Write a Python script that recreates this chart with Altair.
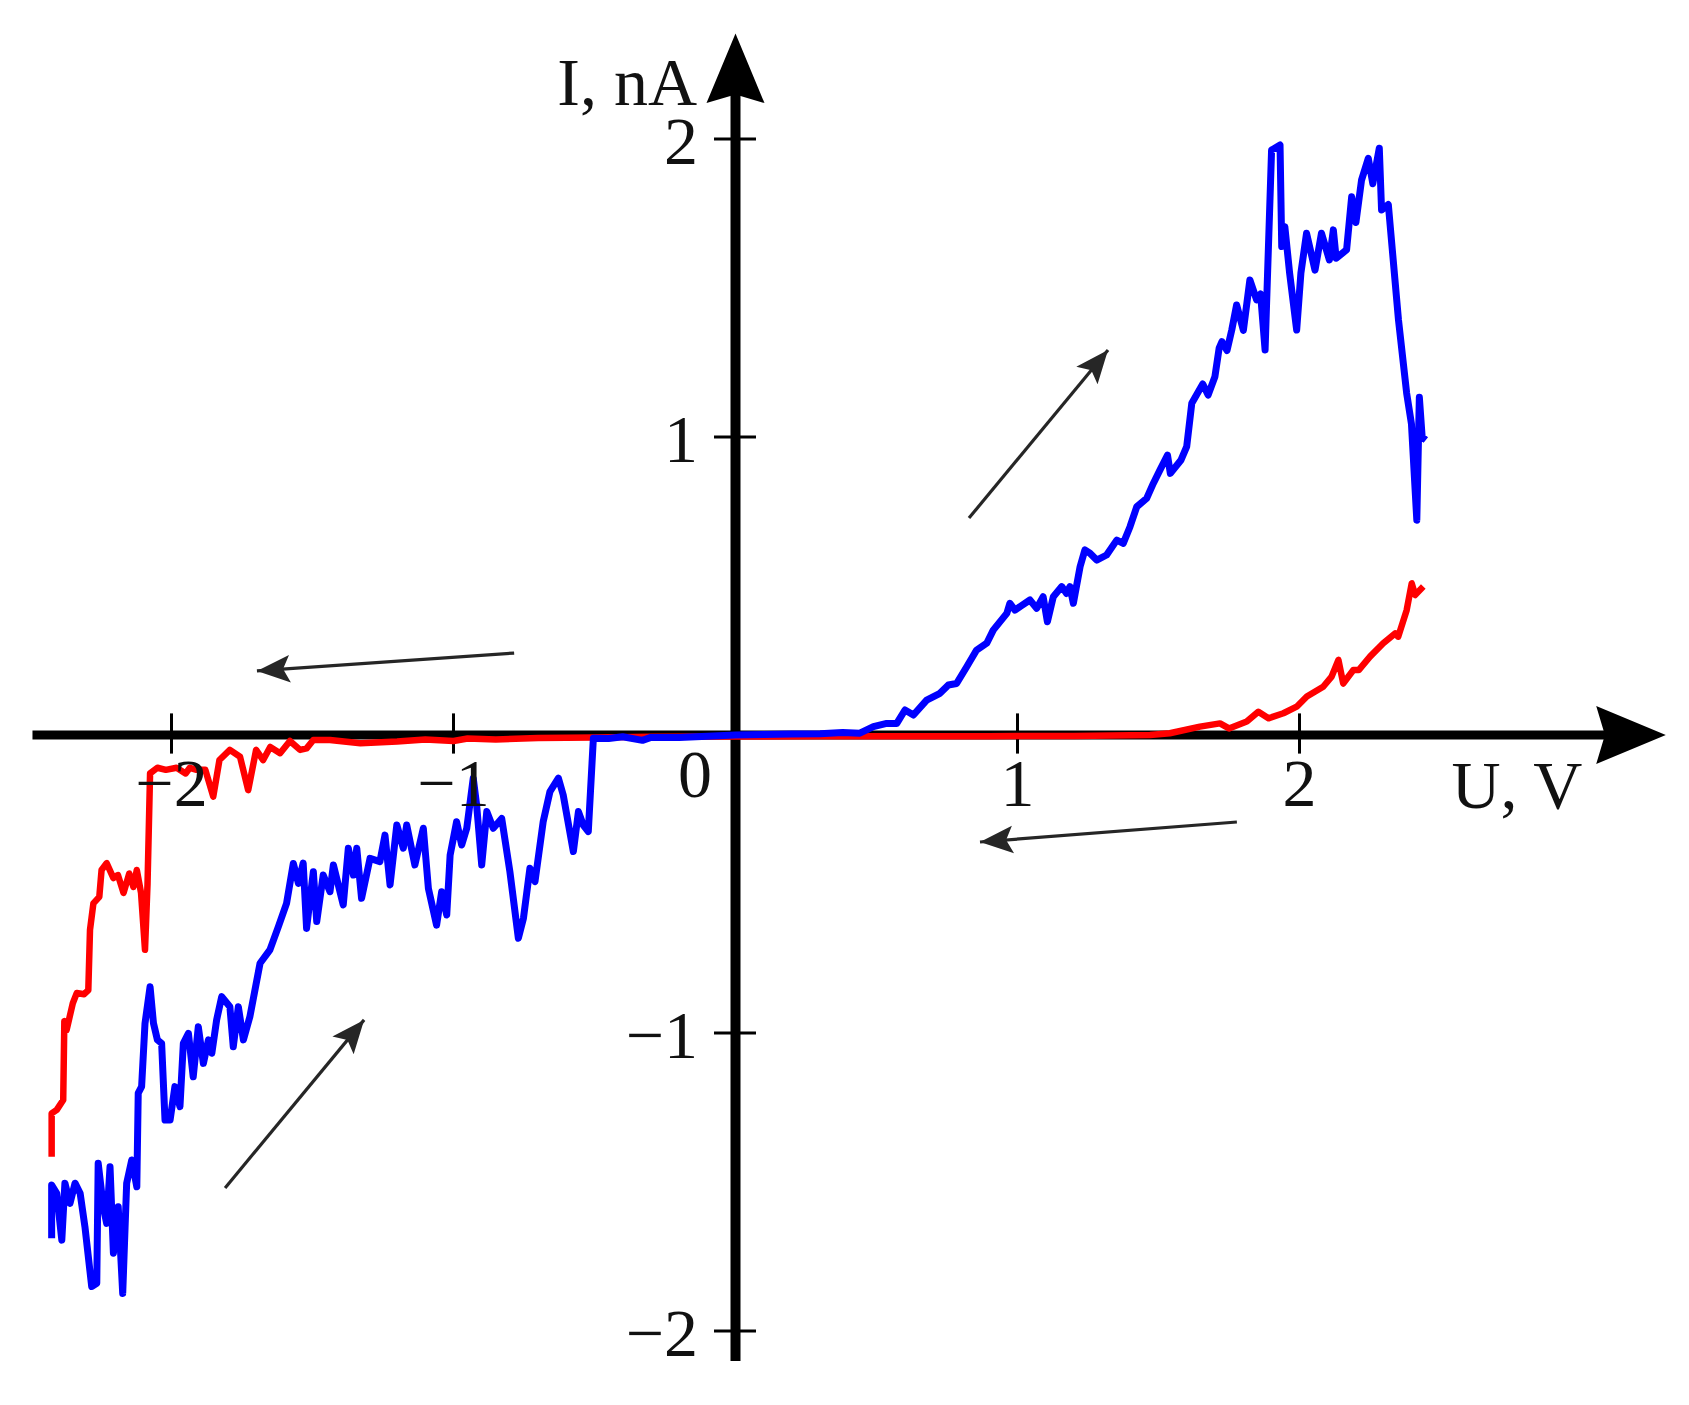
import math
import altair as alt
import pandas as pd

# ---------------- data ----------------
blue_u = [-2.425, -2.425, -2.407, -2.389, -2.378, -2.360, -2.342, -2.324, -2.307, -2.283,
          -2.265, -2.260, -2.242, -2.230, -2.218, -2.206, -2.189, -2.173, -2.159, -2.141,
          -2.123, -2.118, -2.106, -2.094, -2.076, -2.064, -2.050, -2.035, -2.023, -2.005,
          -1.988, -1.970, -1.958, -1.940, -1.923, -1.905, -1.887, -1.869, -1.857, -1.840,
          -1.822, -1.793, -1.781, -1.763, -1.745, -1.722, -1.686, -1.651, -1.621, -1.592,
          -1.568, -1.550, -1.533, -1.521, -1.497, -1.485, -1.462, -1.438, -1.426, -1.391,
          -1.373, -1.355, -1.343, -1.326, -1.296, -1.261, -1.243, -1.225, -1.201, -1.178,
          -1.166, -1.137, -1.107, -1.089, -1.060, -1.042, -1.024, -1.012, -0.989, -0.971,
          -0.953, -0.930, -0.918, -0.900, -0.882, -0.859, -0.829, -0.800, -0.770, -0.752,
          -0.729, -0.711, -0.682, -0.658, -0.628, -0.611, -0.575, -0.557, -0.540, -0.522,
          -0.504, -0.450, -0.400, -0.330, -0.300, -0.200, -0.100, 0.000, 0.100, 0.200,
          0.300, 0.380, 0.441, 0.489, 0.536, 0.572, 0.601, 0.631, 0.678, 0.725,
          0.755, 0.784, 0.820, 0.855, 0.891, 0.914, 0.962, 0.973, 0.991, 1.009,
          1.044, 1.068, 1.091, 1.106, 1.127, 1.157, 1.174, 1.186, 1.198, 1.222,
          1.239, 1.257, 1.281, 1.316, 1.352, 1.375, 1.399, 1.423, 1.458, 1.482,
          1.505, 1.532, 1.542, 1.580, 1.600, 1.618, 1.657, 1.676, 1.700, 1.715,
          1.725, 1.743, 1.760, 1.777, 1.801, 1.824, 1.848, 1.862, 1.878, 1.901,
          1.931, 1.937, 1.948, 1.965, 1.990, 2.005, 2.025, 2.055, 2.078, 2.106,
          2.120, 2.130, 2.167, 2.185, 2.200, 2.220, 2.244, 2.260, 2.283, 2.291,
          2.315, 2.351, 2.380, 2.397, 2.416, 2.425, 2.435, 2.448]
blue_i = [-1.689, -1.510, -1.538, -1.695, -1.504, -1.572, -1.504, -1.538, -1.650, -1.851,
          -1.840, -1.437, -1.583, -1.639, -1.449, -1.739, -1.583, -1.874, -1.504, -1.426,
          -1.516, -1.202, -1.180, -0.968, -0.845, -0.967, -1.023, -1.035, -1.292, -1.292,
          -1.180, -1.247, -1.035, -1.001, -1.147, -0.979, -1.102, -1.023, -1.068, -0.956,
          -0.878, -0.912, -1.046, -0.912, -1.023, -0.945, -0.766, -0.721, -0.643, -0.565,
          -0.431, -0.498, -0.430, -0.649, -0.459, -0.626, -0.470, -0.526, -0.436, -0.570,
          -0.380, -0.470, -0.380, -0.548, -0.414, -0.425, -0.336, -0.503, -0.302, -0.380,
          -0.302, -0.436, -0.313, -0.515, -0.638, -0.526, -0.604, -0.403, -0.291, -0.369,
          -0.313, -0.145, -0.235, -0.436, -0.257, -0.313, -0.280, -0.459, -0.682, -0.615,
          -0.447, -0.492, -0.291, -0.190, -0.145, -0.201, -0.391, -0.257, -0.302, -0.324,
          -0.011, -0.012, -0.006, -0.018, -0.008, -0.008, -0.004, 0.000, 0.002, 0.003,
          0.004, 0.008, 0.006, 0.028, 0.039, 0.039, 0.084, 0.067, 0.117, 0.140,
          0.168, 0.173, 0.229, 0.285, 0.308, 0.352, 0.408, 0.442, 0.419, 0.431,
          0.453, 0.425, 0.464, 0.380, 0.464, 0.498, 0.475, 0.498, 0.442, 0.565,
          0.621, 0.610, 0.587, 0.604, 0.654, 0.643, 0.699, 0.766, 0.794, 0.845,
          0.889, 0.939, 0.878, 0.923, 0.968, 1.113, 1.178, 1.141, 1.202, 1.298,
          1.320, 1.290, 1.360, 1.443, 1.358, 1.527, 1.460, 1.480, 1.292, 1.963,
          1.980, 1.639, 1.706, 1.550, 1.359, 1.550, 1.684, 1.560, 1.684, 1.594,
          1.695, 1.600, 1.628, 1.806, 1.720, 1.862, 1.935, 1.850, 1.969, 1.762,
          1.780, 1.393, 1.147, 1.044, 0.721, 1.133, 1.000, 0.990]

red_u = [2.439, 2.410, 2.398, 2.380, 2.350, 2.339, 2.297, 2.250, 2.210, 2.191,
         2.155, 2.138, 2.114, 2.084, 2.026, 1.990, 1.943, 1.890, 1.854, 1.813,
         1.750, 1.718, 1.647, 1.540, 1.470, 1.200, 0.900, 0.600, 0.300, 0.000,
         -0.300, -0.500, -0.700, -0.850, -0.950, -1.000, -1.100, -1.200, -1.330, -1.438,
         -1.497, -1.521, -1.544, -1.580, -1.615, -1.650, -1.675, -1.700, -1.728, -1.757,
         -1.793, -1.830, -1.852, -1.880, -1.911, -1.935, -1.950, -1.982, -2.020, -2.050,
         -2.076, -2.085, -2.094, -2.108, -2.123, -2.135, -2.150, -2.170, -2.190, -2.206,
         -2.230, -2.248, -2.256, -2.277, -2.289, -2.295, -2.310, -2.336, -2.350, -2.372,
         -2.380, -2.384, -2.407, -2.425, -2.425]
red_i = [0.498, 0.470, 0.509, 0.419, 0.330, 0.341, 0.308, 0.263, 0.218, 0.218,
         0.173, 0.252, 0.196, 0.162, 0.129, 0.095, 0.073, 0.056, 0.078, 0.045,
         0.022, 0.039, 0.028, 0.006, 0.000, -0.003, -0.004, -0.004, -0.004, -0.005,
         -0.006, -0.008, -0.010, -0.015, -0.012, -0.020, -0.015, -0.022, -0.028, -0.017,
         -0.017, -0.045, -0.050, -0.020, -0.061, -0.040, -0.084, -0.050, -0.185, -0.073,
         -0.050, -0.084, -0.207, -0.117, -0.117, -0.110, -0.129, -0.110, -0.117, -0.110,
         -0.129, -0.500, -0.721, -0.530, -0.453, -0.510, -0.465, -0.530, -0.470, -0.480,
         -0.430, -0.453, -0.543, -0.565, -0.654, -0.856, -0.870, -0.866, -0.900, -0.990,
         -0.960, -1.225, -1.258, -1.270, -1.415]

x_tick_values = [-2, -1, 1, 2]
y_tick_values = [-2, -1, 1, 2]
x_tick_labels = ["\u22122", "\u22121", "1", "2"]
y_tick_labels = ["\u22122", "\u22121", "1", "2"]
x_title = "U, V"
y_title = "I, nA"
origin_label = "0"

# direction arrows: tail (u, i) -> tip (u, i)
arrow_tail_u = [-0.785, 0.828, 1.778, -1.810]
arrow_tail_i = [0.275, 0.728, -0.292, -1.520]
arrow_tip_u = [-1.697, 1.321, 0.867, -1.317]
arrow_tip_i = [0.215, 1.292, -0.359, -0.956]

# ---------------- layout ----------------
W, H = 1665, 1375
X0, X1 = -2.5798, 3.3245
Y0, Y1 = -2.1745, 2.4396
PX_U = W / (X1 - X0)
PX_I = H / (Y1 - Y0)

xs = alt.Scale(domain=[X0, X1], nice=False, zero=False)
ys = alt.Scale(domain=[Y0, Y1], nice=False, zero=False)


def enc_xy(xf="u", yf="i"):
    return dict(x=alt.X(f"{xf}:Q", scale=xs, axis=None),
                y=alt.Y(f"{yf}:Q", scale=ys, axis=None))


def seg_enc():
    return dict(x=alt.X("u:Q", scale=xs, axis=None), y=alt.Y("i:Q", scale=ys, axis=None),
                x2="u2:Q", y2="i2:Q")


FONT = "Liberation Serif"
FS = 68
INK = "#111111"

# axes lines
xaxis_df = pd.DataFrame({"u": [-2.493], "i": [0.0], "u2": [3.10], "i2": [0.0]})
yaxis_df = pd.DataFrame({"u": [0.0], "i": [-2.101], "u2": [0.0], "i2": [2.20]})
xaxis_line = alt.Chart(xaxis_df).mark_rule(color="black", strokeWidth=9).encode(**seg_enc())
yaxis_line = alt.Chart(yaxis_df).mark_rule(color="black", strokeWidth=10).encode(**seg_enc())

# axis arrowheads (path points right; rotated by angle)
HEAD_BIG = "M0,0L-2.4,-1L-2.1,0L-2.4,1Z"
axis_head_df = pd.DataFrame({"u": [3.299, 0.0], "i": [0.0, 2.354], "ang": [0.0, 270.0]})
axis_heads = alt.Chart(axis_head_df).mark_point(
    shape=HEAD_BIG, filled=True, opacity=1, color="black", size=3364
).encode(**enc_xy(), angle=alt.Angle("ang:Q", scale=None))

# ticks
xt_df = pd.DataFrame({"u": x_tick_values, "i": [0.0725] * 4, "u2": x_tick_values, "i2": [-0.0624] * 4})
yt_df = pd.DataFrame({"u": [-0.0762] * 4, "i": y_tick_values, "u2": [0.0727] * 4, "i2": y_tick_values})
ticks = alt.Chart(pd.concat([xt_df, yt_df])).mark_rule(color="black", strokeWidth=3).encode(**seg_enc())

# curves
red_df = pd.DataFrame({"u": red_u, "i": red_i, "k": list(range(len(red_u)))})
blue_df = pd.DataFrame({"u": blue_u, "i": blue_i, "k": list(range(len(blue_u)))})
red_line = alt.Chart(red_df).mark_line(color="#ff0000", strokeWidth=6.5, strokeJoin="round").encode(
    **enc_xy(), order="k:Q")
blue_line = alt.Chart(blue_df).mark_line(color="#0000ff", strokeWidth=7, strokeJoin="round").encode(
    **enc_xy(), order="k:Q")

# direction arrows
angs = []
for tu, ti, pu, pi in zip(arrow_tail_u, arrow_tail_i, arrow_tip_u, arrow_tip_i):
    dx = (pu - tu) * PX_U
    dy = -(pi - ti) * PX_I
    angs.append(math.degrees(math.atan2(dy, dx)) % 360)
arr_df = pd.DataFrame({"u": arrow_tail_u, "i": arrow_tail_i,
                       "u2": arrow_tip_u, "i2": arrow_tip_i, "ang": angs})
arrow_shafts = alt.Chart(arr_df).mark_rule(color="#262626", strokeWidth=3.2).encode(**seg_enc())
HEAD_SMALL = "M0,0L-2.4,-1L-1.9,0L-2.4,1Z"
arrow_heads = alt.Chart(arr_df).mark_point(
    shape=HEAD_SMALL, filled=True, opacity=1, color="#262626", size=760
).encode(x=alt.X("u2:Q", scale=xs, axis=None), y=alt.Y("i2:Q", scale=ys, axis=None),
         angle=alt.Angle("ang:Q", scale=None))

# texts
ylab_df = pd.DataFrame({"t": y_tick_labels, "u": [-0.133] * 4,
                        "i": [v - 25 / PX_I for v in y_tick_values]})
ylabels = alt.Chart(ylab_df).mark_text(font=FONT, fontSize=FS, color=INK, align="right",
                                       baseline="alphabetic").encode(**enc_xy(), text="t:N")

xlab_df = pd.DataFrame({"t": x_tick_labels + [origin_label],
                        "u": x_tick_values + [-0.144],
                        "i": [-0.238] * 4 + [-0.207]})
xlabels = alt.Chart(xlab_df).mark_text(font=FONT, fontSize=FS, color=INK, align="center",
                                       baseline="alphabetic").encode(**enc_xy(), text="t:N")

ytitle = alt.Chart(pd.DataFrame({"t": [y_title], "u": [-0.1365], "i": [2.115]})).mark_text(
    font=FONT, fontSize=FS, color=INK, align="right", baseline="alphabetic"
).encode(**enc_xy(), text="t:N")
xtitle = alt.Chart(pd.DataFrame({"t": [x_title], "u": [2.539], "i": [-0.245]})).mark_text(
    font=FONT, fontSize=FS, color=INK, align="left", baseline="alphabetic"
).encode(**enc_xy(), text="t:N")

chart = alt.layer(
    xaxis_line, yaxis_line, ticks, axis_heads, red_line, blue_line,
    arrow_shafts, arrow_heads, ylabels, xlabels, ytitle, xtitle
).properties(
    width=W, height=H, padding=0, autosize="none", background="white"
).configure_view(stroke=None)

chart.save("out.html", embed_options={"renderer": "svg", "actions": False})
